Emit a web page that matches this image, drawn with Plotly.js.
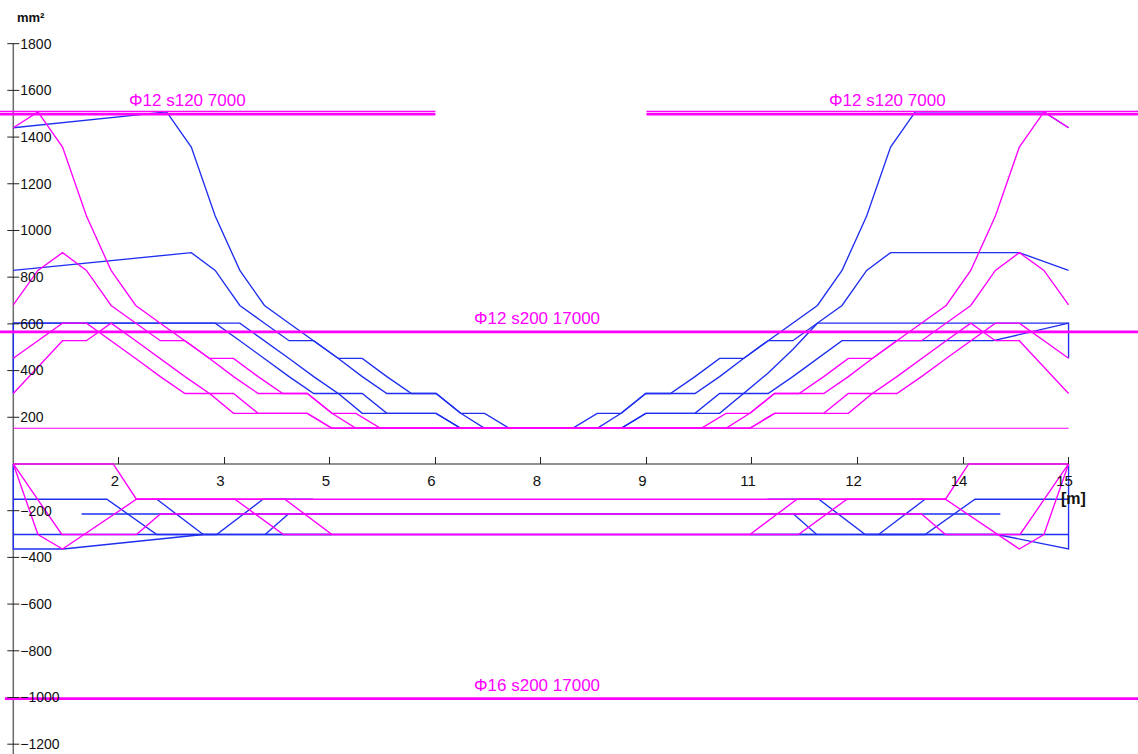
<!DOCTYPE html>
<html><head><meta charset="utf-8">
<script src="https://cdn.plot.ly/plotly-3.0.1.min.js"></script>
<style>html,body{margin:0;padding:0;background:#fff}#chart{width:1138px;height:754px}</style>
</head><body><div id="chart"></div><script>
// ---- axes ----
const xTicks = [1.5, 3, 4.5, 6, 7.5, 9, 10.5, 12, 13.5, 15];
const xTickText = ['2', '3', '5', '6', '8', '9', '11', '12', '14', '15'];
const yTicks = [1800, 1600, 1400, 1200, 1000, 800, 600, 400, 200, -200, -400, -600, -800, -1000, -1200];

// ---- top (positive) curves, magenta ----
const topMagBigX = [0,0.35,0.70,1.04,1.39,1.74,2.09,2.44,2.79,3.13,3.48,3.83,4.18,4.53,4.87,5.22,9.78,10.13,10.47,10.82,11.17,11.52,11.87,12.21,12.56,12.91,13.26,13.61,13.96,14.30,14.65,15];
const topMagBigY = [1440,1508,1357,1062,829,679,603,528,452,374,302,302,302,217,217,153,153,217,217,302,302,302,374,452,528,603,679,829,1062,1357,1508,1440];
const topMagMedX = [0,0.35,0.70,1.04,1.39,1.74,2.09,2.44,2.79,3.13,3.48,3.83,4.18,4.53,4.87,10.13,10.47,10.82,11.17,11.52,11.87,12.21,12.56,12.91,13.26,13.61,13.96,14.30,14.65,15];
const topMagMedY = [681,829,905,829,679,603,528,528,452,452,374,302,302,217,153,153,217,302,302,374,452,452,528,528,603,679,829,905,829,681];
const topMagAX = [0,0.35,0.70,1.04,1.39,1.74,2.09,2.44,2.79,3.13,4.18,4.53,10.47,10.82,11.87,12.21,12.56,12.91,13.26,13.61,13.96,14.30,14.65,15];
const topMagAY = [453,528,603,603,528,452,374,302,302,217,217,153,153,217,217,302,302,374,452,528,603,603,528,453];
const topMagBX = [0,0.35,0.70,1.04,1.39,1.74,2.09,2.44,2.79,3.13,3.48,4.18,4.53,10.47,10.82,11.52,11.87,12.21,12.56,12.91,13.26,13.61,13.96,14.30,14.65,15];
const topMagBY = [302,415,528,528,603,528,452,374,302,302,217,217,153,153,217,217,302,302,374,452,528,603,528,528,415,302];
// ---- top (positive) curves, blue ----
const topBlueBigX = [0,2.18,2.53,2.87,3.22,3.57,3.92,4.27,4.62,4.96,5.31,5.66,6.01,6.36,6.70,7.05,7.95,8.30,8.64,8.99,9.34,9.69,10.04,10.38,10.73,11.08,11.43,11.78,12.13,12.47,12.82,14.65,15];
const topBlueBigY = [1440,1508,1357,1062,829,679,603,528,452,374,302,302,302,217,217,153,153,217,217,302,302,302,374,452,528,603,679,829,1062,1357,1508,1508,1440];
const topBlueMedX = [0,2.53,2.87,3.22,3.57,3.92,4.27,4.62,4.96,5.31,5.66,6.01,6.36,6.70,8.30,8.64,8.99,9.34,9.69,10.04,10.38,10.73,11.08,11.43,11.78,12.13,12.47,14.30,15];
const topBlueMedY = [829,905,829,679,603,528,528,452,452,374,302,302,217,153,153,217,302,302,374,452,452,528,528,603,679,829,905,905,829];
const topBlueAX = [0,2.87,3.22,3.57,3.92,4.27,4.62,4.96,6.01,6.36,8.64,8.99,10.04,10.38,10.73,11.08,11.43,11.78,13.93,15];
const topBlueAY = [603,603,528,452,374,302,302,217,217,153,153,217,217,302,302,374,452,528,528,603];
const topBlueBX = [0,0,3.22,3.57,3.92,4.27,4.62,4.96,5.31,6.01,6.36,8.64,8.99,9.69,10.04,10.38,10.73,11.08,11.43,15,15];
const topBlueBY = [302,603,603,528,452,374,302,302,217,217,153,153,217,217,302,302,390,490,603,603,453];

// ---- bottom (negative) curves, magenta ----
const botMag1X = [0,1.42,1.75,13.25,13.58,15];
const botMag1Y = [0,0,-151,-151,0,0];
const botMag2X = [0,0.35,0.70,1.75,3.15,3.84,11.16,11.85,13.25,14.30,14.65,15];
const botMag2Y = [0,-302,-364,-151,-151,-302,-302,-151,-151,-364,-302,0];
const botMag3X = [0,0.69,1.75,2.09,12.91,13.25,14.31,15];
const botMag3Y = [0,-302,-302,-214,-214,-302,-302,0];
const botMag4X = [1.75,3.86,4.53,10.47,11.14,13.25];
const botMag4Y = [-151,-151,-302,-302,-151,-151];
// ---- bottom (negative) curves, blue ----
const botBlue1X = [0,0,0.71,2.70,4.53,null,10.47,12.30,13.98,15,15];
const botBlue1Y = [0,-364,-364,-302,-302,null,-302,-302,-302,-364,0];
const botBlue2X = [0,1.33,2.04,2.89,3.55,4.26,null,10.72,11.45,12.11,12.96,13.67,15];
const botBlue2Y = [-151,-151,-302,-302,-151,-151,null,-151,-151,-302,-302,-151,-151];
const botBlue3X = [2.04,2.70,null,12.30,12.96];
const botBlue3Y = [-151,-302,null,-302,-151];
const botBlue4X = [3.58,3.91,null,11.09,11.42];
const botBlue4Y = [-302,-214,null,-214,-302];
const botBlue5X = [0.97,14.03];
const botBlue5Y = [-214,-214];
const botBlue6X = [0,15];
const botBlue6Y = [-302,-302];

// ---- reinforcement bars ----
const barLabels = ['Φ12 s120 7000', 'Φ12 s120 7000', 'Φ12 s200 17000', 'Φ16 s200 17000'];
const barStart = [-1, 9, -1, -0.12];
const barEnd = [6, 17, 17, 17];
const barValue = [1498, 1498, 566, -1005];
const barLabelX = [2.47, 12.43, 7.45, 7.45];
const barTopValue = 1510;
const minLineX = [0, 15];
const minLineValue = 153;

const MAG = '#ff00ff', BLUE = '#1f2ff0';
const xMin = -0.189, xMax = 15.987, yMin = -1242, yMax = 1987;

const traces = [];
function add(x, y, color, w) {
  traces.push({x: x, y: y, type: 'scatter', mode: 'lines', connectgaps: false,
    line: {color: color, width: w || 1.35}, hoverinfo: 'skip', showlegend: false});
}
add(botBlue6X, botBlue6Y, BLUE); add(botBlue5X, botBlue5Y, BLUE);
add(botBlue1X, botBlue1Y, BLUE); add(botBlue2X, botBlue2Y, BLUE);
add(botBlue3X, botBlue3Y, BLUE); add(botBlue4X, botBlue4Y, BLUE);
add(topBlueBX, topBlueBY, BLUE); add(topBlueAX, topBlueAY, BLUE);
add(topBlueMedX, topBlueMedY, BLUE); add(topBlueBigX, topBlueBigY, BLUE);
add(botMag4X, botMag4Y, MAG); add(botMag3X, botMag3Y, MAG); add(botMag2X, botMag2Y, MAG); add(botMag1X, botMag1Y, MAG);
add(topMagBX, topMagBY, MAG); add(topMagAX, topMagAY, MAG);
add(topMagMedX, topMagMedY, MAG); add(topMagBigX, topMagBigY, MAG);
add(minLineX, [minLineValue, minLineValue], MAG, 1.2);
for (let i = 0; i < 2; i++) add([barStart[i], barEnd[i]], [barTopValue, barTopValue], MAG, 1.2);
for (let i = 0; i < barLabels.length; i++) add([barStart[i], barEnd[i]], [barValue[i], barValue[i]], MAG, 2.7);

const shapes = [];
const AX = '#6b6b6b';
shapes.push({type: 'line', xref: 'x', yref: 'y', x0: 0, x1: 0, y0: 1800, y1: yMin - 100, line: {color: AX, width: 1.5}, layer: 'below'});
shapes.push({type: 'line', xref: 'x', yref: 'y', x0: 0, x1: 15, y0: 0, y1: 0, line: {color: AX, width: 1.5}, layer: 'below'});
yTicks.forEach(function (v) {
  shapes.push({type: 'line', xref: 'x', yref: 'y', xsizemode: 'pixel', xanchor: 0, x0: -6, x1: 6, y0: v, y1: v, line: {color: '#222', width: 1}});
});

const font = 'Liberation Sans, Arial, sans-serif';
const annotations = [];
for (let i = 0; i < barLabels.length; i++) {
  annotations.push({x: barLabelX[i], y: barValue[i], xref: 'x', yref: 'y', text: barLabels[i], showarrow: false,
    xanchor: 'center', yanchor: 'bottom', yshift: 2, font: {family: font, size: 17, color: MAG}});
}
annotations.push({x: 15.063, y: 0, xref: 'x', yref: 'y', text: '<b>[m]</b>', showarrow: false,
  xanchor: 'center', yanchor: 'middle', yshift: -35, font: {family: font, size: 16, color: '#111'}});
annotations.push({x: 15 / 1138, y: 1 - 17 / 754, xref: 'paper', yref: 'paper', text: '<b>mm²</b>', showarrow: false,
  xanchor: 'left', yanchor: 'middle', font: {family: font, size: 13, color: '#111'}});

const layout = {
  width: 1138, height: 754, margin: {l: 0, r: 0, t: 0, b: 0},
  paper_bgcolor: '#fff', plot_bgcolor: '#fff', showlegend: false,
  xaxis: {range: [xMin, xMax], showgrid: false, zeroline: false, showline: false, tickmode: 'array',
    tickvals: xTicks, ticktext: xTickText, ticks: 'inside', ticklen: 7, tickwidth: 1, tickcolor: '#222',
    anchor: 'free', position: (0 - yMin) / (yMax - yMin), ticklabelshift: -4, ticklabelstandoff: 6,
    tickfont: {family: font, size: 15, color: '#111'}},
  yaxis: {range: [yMin, yMax], showgrid: false, zeroline: false, showline: false, tickmode: 'array',
    tickvals: yTicks, ticks: '', anchor: 'free', position: (0 - xMin) / (xMax - xMin),
    ticklabelposition: 'inside', ticklabelstandoff: 3,
    tickfont: {family: font, size: 14, color: '#111'}},
  shapes: shapes, annotations: annotations
};
Plotly.newPlot('chart', traces, layout, {displayModeBar: false, staticPlot: true});
</script></body></html>
